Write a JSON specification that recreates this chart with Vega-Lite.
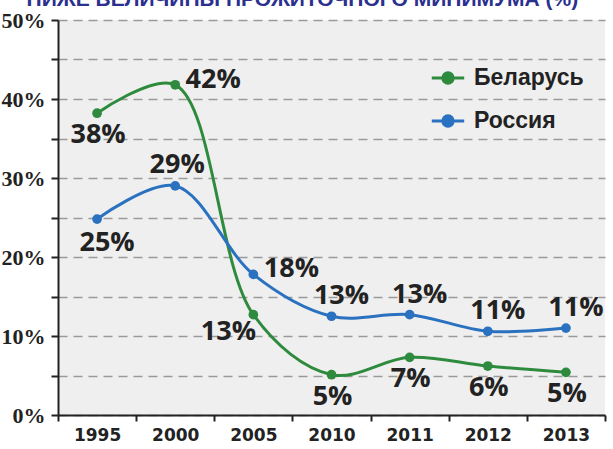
{
  "$schema": "https://vega.github.io/schema/vega-lite/v6.json",
  "width": 547,
  "height": 395,
  "autosize": {"type": "none"},
  "padding": {"left": 58, "top": 20, "right": 8, "bottom": 34},
  "background": "#ffffff",
  "config": {
    "view": {"fill": "#efefef", "stroke": null}
  },
  "data": {
    "values": [
      {"country": "Беларусь", "year": 1995, "value": 38.2, "label": "38%"},
      {"country": "Беларусь", "year": 2000, "value": 41.8, "label": "42%"},
      {"country": "Беларусь", "year": 2005, "value": 12.7, "label": "13%"},
      {"country": "Беларусь", "year": 2010, "value": 5.1, "label": "5%"},
      {"country": "Беларусь", "year": 2011, "value": 7.3, "label": "7%"},
      {"country": "Беларусь", "year": 2012, "value": 6.2, "label": "6%"},
      {"country": "Беларусь", "year": 2013, "value": 5.4, "label": "5%"},
      {"country": "Россия", "year": 1995, "value": 24.8, "label": "25%"},
      {"country": "Россия", "year": 2000, "value": 29.0, "label": "29%"},
      {"country": "Россия", "year": 2005, "value": 17.8, "label": "18%"},
      {"country": "Россия", "year": 2010, "value": 12.5, "label": "13%"},
      {"country": "Россия", "year": 2011, "value": 12.7, "label": "13%"},
      {"country": "Россия", "year": 2012, "value": 10.6, "label": "11%"},
      {"country": "Россия", "year": 2013, "value": 11.0, "label": "11%"}
    ]
  },
  "encoding": {
    "x": {
      "field": "year",
      "type": "ordinal",
      "bandPosition": 0.5,
      "scale": {"type": "band", "paddingInner": 0, "paddingOuter": 0},
      "axis": {
        "title": null,
        "labelAngle": 0,
        "labelFont": "DejaVu Sans",
        "labelFontWeight": "bold",
        "labelFontSize": 17,
        "labelColor": "#222222",
        "labelPadding": 6,
        "tickBand": "extent",
        "tickSize": 6,
        "tickWidth": 2,
        "tickColor": "#222222",
        "domainColor": "#222222",
        "domainWidth": 2,
        "grid": false
      }
    },
    "y": {
      "field": "value",
      "type": "quantitative",
      "scale": {"domain": [0, 50], "nice": false},
      "axis": {
        "title": null,
        "values": [0, 5, 10, 15, 20, 25, 30, 35, 40, 45, 50],
        "labelExpr": "datum.value % 10 === 0 ? datum.value + '%' : ''",
        "labelFont": "Liberation Sans Narrow",
        "labelFontWeight": "bold",
        "labelFontSize": 22,
        "labelColor": "#222222",
        "labelPadding": 6,
        "tickSize": 7,
        "tickWidth": 2,
        "tickColor": "#222222",
        "domainColor": "#222222",
        "domainWidth": 2,
        "grid": true,
        "gridColor": "#9a9a9a",
        "gridDash": [9, 6],
        "gridWidth": 1.5
      }
    },
    "color": {
      "field": "country",
      "type": "nominal",
      "scale": {"domain": ["Беларусь", "Россия"], "range": ["#2e8b3e", "#2a72c0"]},
      "legend": {
        "title": null,
        "orient": "none",
        "legendX": 372,
        "legendY": 40,
        "symbolType": "M-1,0H1M-0.32,0A0.32,0.32 0 1,0 0.32,0A0.32,0.32 0 1,0 -0.32,0Z",
        "symbolSize": 1050,
        "symbolStrokeWidth": 3,
        "labelFont": "Liberation Sans",
        "labelFontWeight": "bold",
        "labelFontSize": 23,
        "labelColor": "#222222",
        "labelOffset": 8,
        "rowPadding": 13,
        "encode": {
          "symbols": {"update": {"fill": {"scale": "color", "field": "value"}, "fillOpacity": {"value": 1}}}
        }
      }
    }
  },
  "layer": [
    {
      "mark": {"type": "line", "interpolate": "catmull-rom", "strokeWidth": 3}
    },
    {
      "mark": {"type": "point", "filled": true, "size": 95, "opacity": 1}
    },
    {
      "transform": [{"filter": "datum.country === 'Беларусь' && indexof([1995, 2010, 2011, 2012, 2013], datum.year) >= 0"}],
      "mark": {"type": "text", "font": "Open Sans", "fontWeight": "bold", "fontSize": 27, "dy": 22, "dx": 1, "baseline": "middle"},
      "encoding": {"text": {"field": "label"}, "color": {"value": "#222222"}}
    },
    {
      "transform": [{"filter": "datum.country === 'Россия' && datum.year === 1995"}],
      "mark": {"type": "text", "font": "Open Sans", "fontWeight": "bold", "fontSize": 27, "dx": 10, "dy": 24, "baseline": "middle"},
      "encoding": {"text": {"field": "label"}, "color": {"value": "#222222"}}
    },
    {
      "transform": [{"filter": "datum.country === 'Россия' && indexof([2010, 2011, 2012, 2013], datum.year) >= 0"}],
      "mark": {"type": "text", "font": "Open Sans", "fontWeight": "bold", "fontSize": 27, "dx": 10, "dy": -20, "baseline": "middle"},
      "encoding": {"text": {"field": "label"}, "color": {"value": "#222222"}}
    },
    {
      "transform": [{"filter": "datum.country === 'Россия' && datum.year === 2000"}],
      "mark": {"type": "text", "font": "Open Sans", "fontWeight": "bold", "fontSize": 27, "dx": 2, "dy": -21, "baseline": "middle"},
      "encoding": {"text": {"field": "label"}, "color": {"value": "#222222"}}
    },
    {
      "transform": [{"filter": "(datum.country === 'Беларусь' && datum.year === 2000) || (datum.country === 'Россия' && datum.year === 2005)"}],
      "mark": {"type": "text", "font": "Open Sans", "fontWeight": "bold", "fontSize": 27, "dx": 38, "dy": -5, "baseline": "middle"},
      "encoding": {"text": {"field": "label"}, "color": {"value": "#222222"}}
    },
    {
      "transform": [{"filter": "datum.country === 'Беларусь' && datum.year === 2005"}],
      "mark": {"type": "text", "font": "Open Sans", "fontWeight": "bold", "fontSize": 27, "dx": -25, "dy": 17, "baseline": "middle"},
      "encoding": {"text": {"field": "label"}, "color": {"value": "#222222"}}
    },
    {
      "data": {"values": [{"title": "НИЖЕ ВЕЛИЧИНЫ ПРОЖИТОЧНОГО МИНИМУМА (%)", "year": 2005, "value": 51.8}]},
      "mark": {"type": "text", "font": "Liberation Sans", "fontWeight": "bold", "fontSize": 21, "align": "center", "baseline": "alphabetic", "dx": 49, "clip": false},
      "encoding": {
        "text": {"field": "title"},
        "color": {"value": "#2b2f8f"}
      }
    }
  ]
}
